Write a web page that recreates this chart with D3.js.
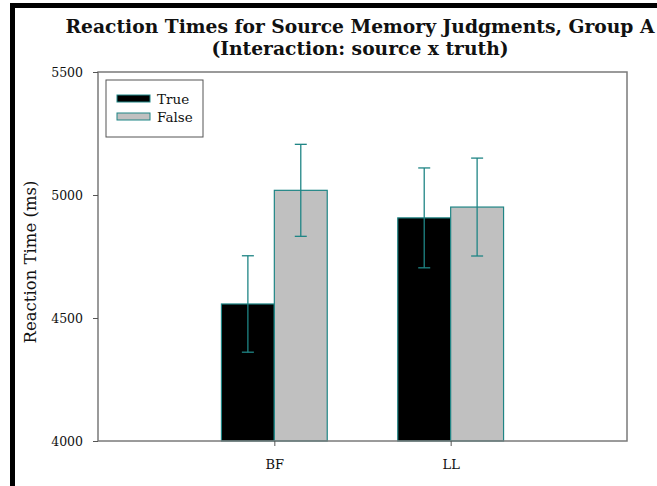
<!DOCTYPE html>
<html>
<head>
<meta charset="utf-8">
<script src="https://cdn.jsdelivr.net/npm/d3@7/dist/d3.min.js"></script>
<style>
  html, body { margin: 0; padding: 0; background: #fff; }
  svg { display: block; }
  text { font-family: "DejaVu Serif", Georgia, serif; fill: #111; }
</style>
</head>
<body>
<svg id="chart" width="657" height="486"></svg>
<script>
// Mean reaction times (ms) with error-bar half widths
const categories = ["BF", "LL"];
const seriesNames = ["True", "False"];
const trueMeans = [4557, 4907];
const falseMeans = [5019, 4951];
const trueErr = [196, 203];
const falseErr = [187, 199];
const yTicks = [4000, 4500, 5000, 5500];

const svg = d3.select("#chart");
const W = 657, H = 486;
const m = { left: 98, right: 30, top: 72, bottom: 45 };
const plotW = W - m.left - m.right;
const plotH = H - m.top - m.bottom;

const teal = "#1f8585";
const fills = ["#000000", "#c0c0c0"];

// Frame edges along the top and left of the figure
svg.append("rect").attr("x", 10).attr("y", 3).attr("width", W - 10).attr("height", 5).attr("fill", "#000");
svg.append("rect").attr("x", 10).attr("y", 3).attr("width", 5).attr("height", H - 3).attr("fill", "#000");

// Title
const title = svg.append("text")
  .attr("x", 360).attr("text-anchor", "middle")
  .style("font-weight", "bold").style("font-size", "18.7px");
title.append("tspan").attr("x", 360).attr("y", 33).text("Reaction Times for Source Memory Judgments, Group A");
title.append("tspan").attr("x", 360).attr("y", 55).text("(Interaction: source x truth)");

const g = svg.append("g").attr("transform", `translate(${m.left},${m.top})`);

const x = d3.scalePoint().domain(categories).range([0, plotW]).padding(1);
const y = d3.scaleLinear().domain([4000, 5500]).range([plotH, 0]);
const barW = plotW * 0.1;

const data = categories.flatMap((c, i) => [
  { cat: c, s: 0, v: trueMeans[i], e: trueErr[i] },
  { cat: c, s: 1, v: falseMeans[i], e: falseErr[i] }
]);

// Bars
g.selectAll("rect.bar").data(data).enter().append("rect")
  .attr("class", "bar")
  .attr("x", d => x(d.cat) + (d.s === 0 ? -barW : 0))
  .attr("y", d => y(d.v))
  .attr("width", barW)
  .attr("height", d => plotH - y(d.v))
  .attr("fill", d => fills[d.s])
  .attr("stroke", teal).attr("stroke-width", 1.2);

// Error bars
const cap = 6;
const eb = g.selectAll("g.err").data(data).enter().append("g").attr("class", "err")
  .attr("stroke", teal).attr("stroke-width", 1.3);
eb.append("line")
  .attr("x1", d => x(d.cat) + (d.s === 0 ? -barW / 2 : barW / 2))
  .attr("x2", d => x(d.cat) + (d.s === 0 ? -barW / 2 : barW / 2))
  .attr("y1", d => y(d.v + d.e)).attr("y2", d => y(d.v - d.e));
["+", "-"].forEach(sign => {
  eb.append("line")
    .attr("x1", d => x(d.cat) + (d.s === 0 ? -barW / 2 : barW / 2) - cap)
    .attr("x2", d => x(d.cat) + (d.s === 0 ? -barW / 2 : barW / 2) + cap)
    .attr("y1", d => y(sign === "+" ? d.v + d.e : d.v - d.e))
    .attr("y2", d => y(sign === "+" ? d.v + d.e : d.v - d.e));
});

// Plot frame
g.append("rect").attr("x", 0).attr("y", 0).attr("width", plotW).attr("height", plotH)
  .attr("fill", "none").attr("stroke", "#7a7a7a").attr("stroke-width", 1.5);

// Axes
const yAxis = g.append("g").call(d3.axisLeft(y).tickValues(yTicks).tickSize(5).tickPadding(10).tickFormat(d3.format("d")));
yAxis.select(".domain").remove();
yAxis.selectAll("line").attr("stroke", "#555");
yAxis.selectAll("text").style("font-size", "12.5px").attr("fill", "#222");

const xAxis = g.append("g").attr("transform", `translate(0,${plotH})`)
  .call(d3.axisBottom(x).tickSize(5).tickPadding(14));
xAxis.select(".domain").remove();
xAxis.selectAll("line").attr("stroke", "#555");
xAxis.selectAll("text").style("font-size", "13px").attr("fill", "#222");

// Y axis title
svg.append("text")
  .attr("transform", "translate(36,262) rotate(-90)")
  .attr("text-anchor", "middle")
  .style("font-size", "16.5px")
  .text("Reaction Time (ms)");

// Legend
const lg = svg.append("g").attr("transform", "translate(106,80)");
lg.append("rect").attr("width", 97).attr("height", 57).attr("fill", "#fff").attr("stroke", "#555").attr("stroke-width", 1);
seriesNames.forEach((n, i) => {
  lg.append("rect").attr("x", 11).attr("y", 15 + i * 18).attr("width", 33).attr("height", 7)
    .attr("fill", fills[i]).attr("stroke", teal).attr("stroke-width", 1);
  lg.append("text").attr("x", 51).attr("y", 24 + i * 18).style("font-size", "13.5px").text(n);
});
</script>
</body>
</html>
